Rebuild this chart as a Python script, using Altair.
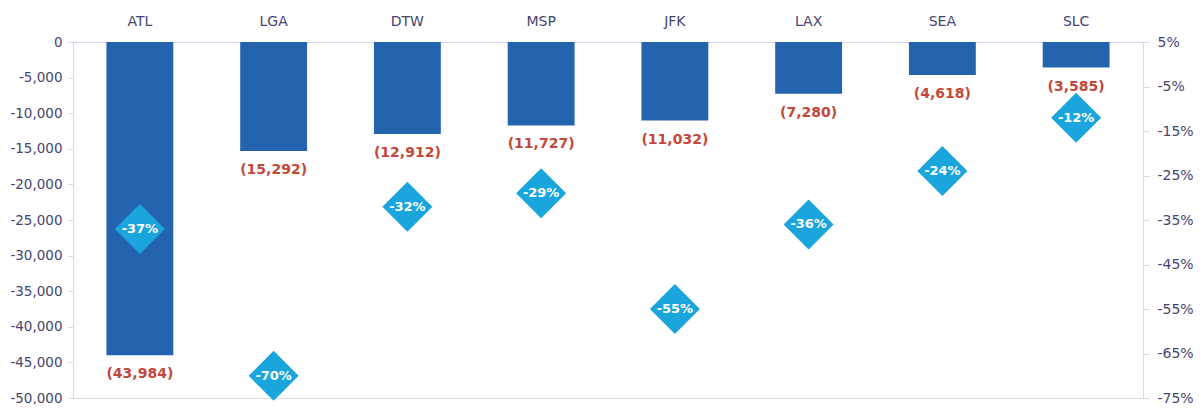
import altair as alt
import pandas as pd

airports = ["ATL", "LGA", "DTW", "MSP", "JFK", "LAX", "SEA", "SLC"]
change = [-43984, -15292, -12912, -11727, -11032, -7280, -4618, -3585]
pct = [-37, -70, -32, -29, -55, -36, -24, -12]

left_ticks = [0, -5000, -10000, -15000, -20000, -25000, -30000, -35000, -40000, -45000, -50000]
right_ticks = [5, -5, -15, -25, -35, -45, -55, -65, -75]

df = pd.DataFrame({
    "airport": airports,
    "change": change,
    "pct": pct,
    "label": [f"({abs(v):,})" for v in change],
    "pct_label": [f"{p}%" for p in pct],
})

FONT = "DejaVu Sans"
AX_COLOR = "#d6d6f7"
LBL_COLOR = "#45456f"

x_enc = alt.X(
    "airport:N",
    sort=airports,
    scale=alt.Scale(paddingInner=0.5, paddingOuter=0.25),
    axis=alt.Axis(
        orient="top", title=None, ticks=False, domainColor=AX_COLOR,
        labelColor=LBL_COLOR, labelFont=FONT, labelFontSize=14, labelPadding=14,
        labelAngle=0,
    ),
)

y_left = alt.Y(
    "change:Q",
    stack=None,
    scale=alt.Scale(domain=[-50000, 0], nice=False, zero=False),
    axis=alt.Axis(
        title=None, values=left_ticks, tickCount=11, grid=False, domainColor=AX_COLOR,
        tickColor=AX_COLOR, tickSize=5, labelPadding=6, labelColor=LBL_COLOR,
        labelFont=FONT, labelFontSize=13.5, labelOverlap=False,
        labelExpr="(datum.value < 0 ? '-' : '') + format(abs(datum.value), ',')",
    ),
)

bars = alt.Chart(df).mark_bar(color="#2464ae").encode(x=x_enc, y=y_left, y2=alt.datum(0))

bar_text = alt.Chart(df).mark_text(
    color="#c4473a", font=FONT, fontSize=14, fontWeight="bold", baseline="middle", dy=19
).encode(x=x_enc, y=y_left, text="label:N")

left = alt.layer(bars, bar_text)

y_right = alt.Y(
    "pct:Q",
    scale=alt.Scale(domain=[-75, 5], nice=False),
    axis=alt.Axis(
        orient="right", title=None, values=right_ticks, grid=False,
        domainColor=AX_COLOR, tickColor=AX_COLOR, tickSize=6, labelPadding=8,
        labelColor=LBL_COLOR, labelFont=FONT, labelFontSize=14, labelOverlap=False,
        labelExpr="(datum.value < 0 ? '-' : '') + abs(datum.value) + '%'",
    ),
)

diamonds = alt.Chart(df).mark_point(
    shape="diamond", filled=True, size=2500, color="#1aa5dc", opacity=1
).encode(x=x_enc, y=y_right)

diamond_text = alt.Chart(df).mark_text(
    color="white", font=FONT, fontSize=13, fontWeight="bold", baseline="middle"
).encode(x=x_enc, y=y_right, text="pct_label:N")

right = alt.layer(diamonds, diamond_text)

chart = (
    alt.layer(left, right)
    .resolve_scale(y="independent")
    .properties(
        width=1070, height=356,
        autosize=alt.AutoSizeParams(type="none"),
        padding={"left": 65, "top": 34, "right": 50, "bottom": 6},
    )
    .configure_view(stroke=None)
    .configure(background="white")
)

chart.save("out.html", embed_options={"renderer": "svg", "actions": False})
